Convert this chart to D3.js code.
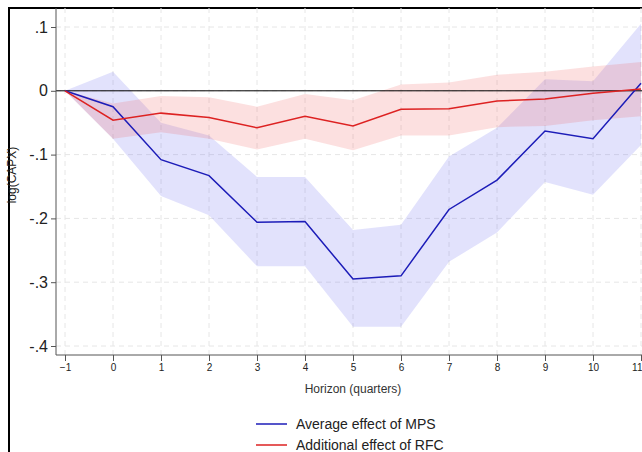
<!DOCTYPE html>
<html><head><meta charset="utf-8">
<script src="https://cdn.jsdelivr.net/npm/d3@7"></script>
<style>body{margin:0;background:#fff}text{font-family:"Liberation Sans",Arial,sans-serif}</style>
</head><body><svg id="c" width="642" height="452"></svg>
<script>
var horizon = [-1,0,1,2,3,4,5,6,7,8,9,10,11];
var mps = [0,-0.025,-0.108,-0.133,-0.206,-0.205,-0.295,-0.290,-0.186,-0.140,-0.063,-0.075,0.012];
var mpsHi = [0,0.030,-0.050,-0.070,-0.135,-0.135,-0.218,-0.210,-0.103,-0.058,0.018,0.015,0.105];
var mpsLo = [0,-0.075,-0.165,-0.195,-0.275,-0.275,-0.370,-0.370,-0.268,-0.222,-0.143,-0.163,-0.085];
var rfc = [0,-0.046,-0.035,-0.042,-0.058,-0.040,-0.055,-0.029,-0.028,-0.016,-0.013,-0.004,0.003];
var rfcHi = [0,-0.020,-0.008,-0.010,-0.025,-0.005,-0.015,0.010,0.013,0.025,0.030,0.038,0.045];
var rfcLo = [0,-0.075,-0.065,-0.075,-0.092,-0.075,-0.093,-0.070,-0.070,-0.057,-0.055,-0.046,-0.040];
var yTicks = [0.1,0,-0.1,-0.2,-0.3,-0.4];
var yLabels = [".1","0","-.1","-.2","-.3","-.4"];

var svg = d3.select("#c");
var x = d3.scaleLinear().domain([-1,11]).range([65,641]);
var y = d3.scaleLinear().domain([0.1,-0.4]).range([27,346]);
var pTop = 8, pBottom = 355, pLeft = 56;

svg.append("rect").attr("x",9).attr("y",8).attr("width",640).attr("height",460)
  .attr("fill","none").attr("stroke","#000").attr("stroke-width",2);

var g = svg.append("g");
g.selectAll(".vg").data(horizon).enter().append("line")
  .attr("x1",d=>x(d)).attr("x2",d=>x(d)).attr("y1",pTop).attr("y2",pBottom)
  .attr("stroke","#e6e6e6").attr("stroke-dasharray","5,4");
g.selectAll(".hg").data(yTicks).enter().append("line")
  .attr("x1",pLeft).attr("x2",642).attr("y1",d=>y(d)).attr("y2",d=>y(d))
  .attr("stroke","#e6e6e6").attr("stroke-dasharray","5,4");

function band(hi, lo, fill){
  var a = d3.area().x((d,i)=>x(horizon[i])).y0((d,i)=>y(lo[i])).y1((d,i)=>y(hi[i]));
  svg.append("path").attr("d",a(horizon)).attr("fill",fill);
}
band(mpsHi, mpsLo, "rgba(110,110,240,0.2)");
band(rfcHi, rfcLo, "rgba(240,100,100,0.2)");

svg.append("line").attr("x1",pLeft).attr("x2",642).attr("y1",y(0)).attr("y2",y(0))
  .attr("stroke","#000").attr("stroke-width",1);

function line(v, col){
  var l = d3.line().x((d,i)=>x(horizon[i])).y(d=>y(d));
  svg.append("path").attr("d",l(v)).attr("fill","none").attr("stroke",col).attr("stroke-width",1.5);
}
line(mps, "#1c1cb8");
line(rfc, "#dd2222");

// axes
var ya = svg.append("g").attr("transform","translate("+pLeft+",0)")
  .call(d3.axisLeft(y).tickValues(yTicks).tickFormat((d,i)=>yLabels[i]).tickSize(5));
ya.select(".domain").attr("d","M0,"+pTop+"V"+pBottom).attr("stroke","#555");
ya.selectAll("text").attr("font-size",16).attr("fill","#222");
ya.selectAll(".tick line").attr("stroke","#555");

var xa = svg.append("g").attr("transform","translate(0,"+pBottom+")")
  .call(d3.axisBottom(x).tickValues(horizon).tickFormat(d3.format("d")).tickSize(6));
xa.select(".domain").attr("d","M"+pLeft+",0H642").attr("stroke","#555");
xa.selectAll("text").attr("font-size",10).attr("fill","#222");
xa.selectAll(".tick line").attr("stroke","#555");
xa.selectAll(".tick text").filter(d=>d===11).attr("text-anchor","end").attr("dx",1);

svg.append("text").attr("x",353).attr("y",393).attr("text-anchor","middle")
  .attr("font-size",12).attr("fill","#333").text("Horizon (quarters)");
svg.append("text").attr("transform","translate(16,175) rotate(-90)")
  .attr("text-anchor","middle").attr("font-size",12).attr("fill","#222").text("log(CAPX)");

var legend = [["Average effect of MPS","#1c1cb8"],["Additional effect of RFC","#dd2222"]];
legend.forEach(function(d,i){
  var ly = 424 + i*21;
  svg.append("line").attr("x1",256).attr("x2",287).attr("y1",ly).attr("y2",ly)
    .attr("stroke",d[1]).attr("stroke-width",1.5);
  svg.append("text").attr("x",296).attr("y",ly+5).attr("font-size",14).attr("fill","#222").text(d[0]);
});
</script></body></html>
